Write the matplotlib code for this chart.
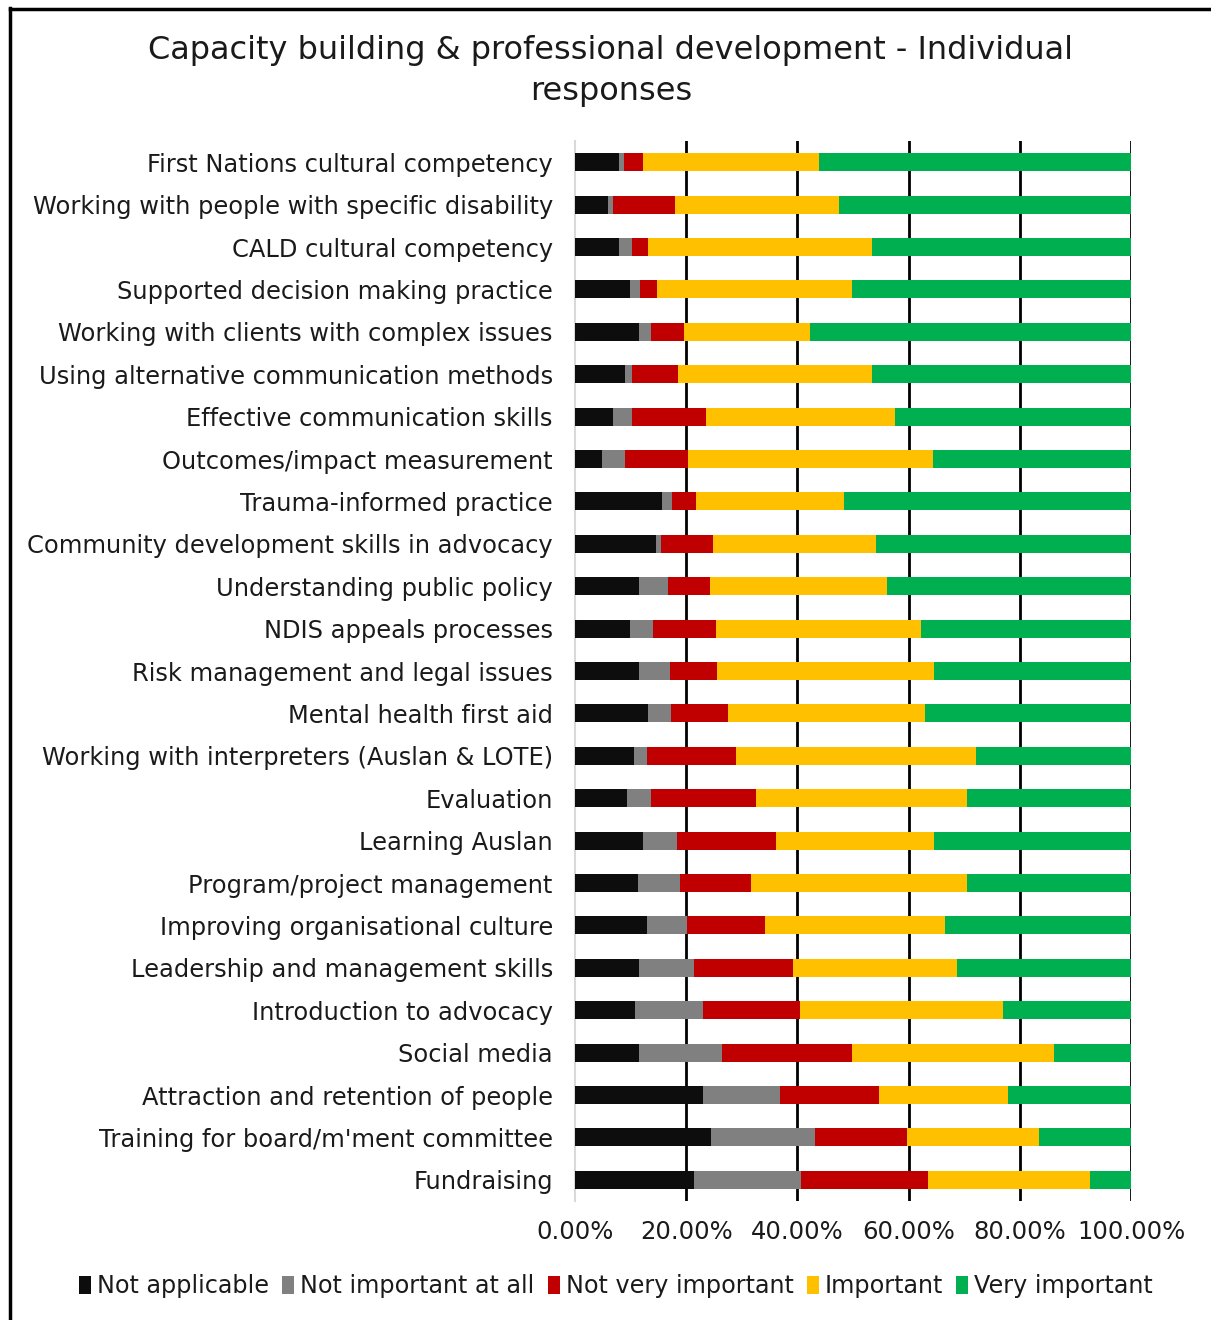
import matplotlib
matplotlib.use("Agg")
import matplotlib.pyplot as plt
from matplotlib.lines import Line2D
from matplotlib.patches import Patch
import numpy as np

plt.rcParams["font.family"] = ["DejaVu Sans"]

CATEGORIES = [
    "First Nations cultural competency",
    "Working with people with specific disability",
    "CALD cultural competency",
    "Supported decision making practice",
    "Working with clients with complex issues",
    "Using alternative communication methods",
    "Effective communication skills",
    "Outcomes/impact measurement",
    "Trauma-informed practice",
    "Community development skills in advocacy",
    "Understanding public policy",
    "NDIS appeals processes",
    "Risk management and legal issues",
    "Mental health first aid",
    "Working with interpreters (Auslan & LOTE)",
    "Evaluation",
    "Learning Auslan",
    "Program/project management",
    "Improving organisational culture",
    "Leadership and management skills",
    "Introduction to advocacy",
    "Social media",
    "Attraction and retention of people",
    "Training for board/m'ment committee",
    "Fundraising",
]

# shares in percent, one list per response option
NOT_APPLICABLE = [8.0, 6.0, 8.0, 9.9, 11.6, 9.0, 6.9, 4.8, 15.7, 14.6, 11.6, 9.9,
                  11.6, 13.1, 10.7, 9.3, 12.3, 11.3, 12.9, 11.6, 10.8, 11.6,
                  23.1, 24.4, 21.4]
NOT_IMPORTANT_AT_ALL = [0.9, 0.9, 2.2, 1.8, 2.0, 1.2, 3.3, 4.2, 1.8, 0.8, 5.2, 4.2,
                        5.5, 4.2, 2.2, 4.3, 6.1, 7.6, 7.2, 9.8, 12.3, 14.9,
                        13.8, 18.7, 19.3]
NOT_VERY_IMPORTANT = [3.4, 11.1, 2.9, 3.1, 6.0, 8.3, 13.3, 11.3, 4.2, 9.5, 7.4, 11.3,
                      8.5, 10.3, 16.1, 18.9, 17.7, 12.7, 14.0, 17.8, 17.4, 23.4,
                      17.7, 16.6, 22.7]
IMPORTANT = [31.5, 29.5, 40.4, 35.1, 22.6, 35.0, 34.1, 44.0, 26.6, 29.3, 32.0, 36.8,
             38.9, 35.3, 43.1, 38.0, 28.4, 38.9, 32.4, 29.5, 36.5, 36.3,
             23.3, 23.7, 29.2]
VERY_IMPORTANT = [56.2, 52.5, 46.5, 50.1, 57.8, 46.5, 42.4, 35.7, 51.7, 45.8, 43.8, 37.8,
                  35.5, 37.1, 27.9, 29.5, 35.5, 29.5, 33.5, 31.3, 23.0, 13.8,
                  22.1, 16.6, 7.4]

SERIES = [
    ("Not applicable", NOT_APPLICABLE, "#0d0d0d"),
    ("Not important at all", NOT_IMPORTANT_AT_ALL, "#808080"),
    ("Not very important", NOT_VERY_IMPORTANT, "#c00000"),
    ("Important", IMPORTANT, "#ffc000"),
    ("Very important", VERY_IMPORTANT, "#00b050"),
]

W, H = 1211, 1320
fig = plt.figure(figsize=(W / 100, H / 100), dpi=100)
ax = fig.add_axes([575 / W, 1 - 1201 / H, 556 / W, 1060 / H])

y = np.arange(len(CATEGORIES))
left = np.zeros(len(CATEGORIES))
for name, vals, color in SERIES:
    vals = np.array(vals) / 100.0
    ax.barh(y, vals, left=left, height=0.42, color=color, label=name, zorder=3)
    left += vals

ax.set_ylim(len(CATEGORIES) - 0.5, -0.5)
ax.set_xlim(0, 1.0)
ax.set_yticks(y)
ax.set_yticklabels(CATEGORIES, fontsize=17.4, color="#1a1a1a")
ax.set_xticks([0, 0.2, 0.4, 0.6, 0.8, 1.0])
ax.set_xticklabels(["0.00%", "20.00%", "40.00%", "60.00%", "80.00%", "100.00%"],
                   fontsize=17.5, color="#1a1a1a")
ax.tick_params(axis="both", length=0)
ax.tick_params(axis="x", pad=14)
ax.tick_params(axis="y", pad=16)

for gx in [0.2, 0.4, 0.6, 0.8, 1.0]:
    ax.axvline(gx, color="black", lw=2, zorder=2)
for s in ["top", "right", "bottom"]:
    ax.spines[s].set_visible(False)
ax.spines["left"].set_color("#d9d9d9")
ax.spines["left"].set_linewidth(1.5)

fig.text(611 / W, 1 - 71 / H,
         "Capacity building & professional development - Individual\nresponses",
         ha="center", va="center", fontsize=23, color="#1a1a1a", linespacing=1.45)

handles = [Patch(facecolor=c, edgecolor="none") for _, _, c in SERIES]
fig.legend(handles, [n for n, _, _ in SERIES], loc="center",
           bbox_to_anchor=(616 / W, 1 - 1286 / H), ncol=5, frameon=False,
           fontsize=17.2, handlelength=0.5, handleheight=0.8, handletextpad=0.25,
           columnspacing=0.55, labelcolor="#1a1a1a")

# frame around the chart area
fig.add_artist(Line2D([9.5 / W, 9.5 / W], [0, 1 - 8 / H], transform=fig.transFigure,
                      color="black", lw=2.5))
fig.add_artist(Line2D([9.5 / W, 1], [1 - 9 / H, 1 - 9 / H], transform=fig.transFigure,
                      color="black", lw=2.5))

fig.savefig("out.png", dpi=100, facecolor="white")
